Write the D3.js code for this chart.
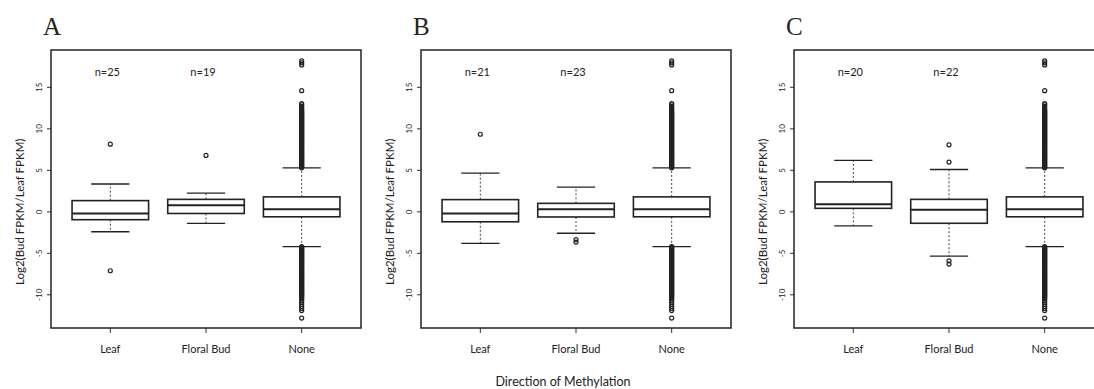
<!DOCTYPE html>
<html>
<head>
<meta charset="utf-8">
<script src="https://cdn.jsdelivr.net/npm/d3@7"></script>
<style>
  body { margin: 0; background: #fff; }
  svg { display: block; }
  text { font-family: Lato, "Liberation Sans", sans-serif; fill: #222; }
</style>
</head>
<body>
<div id="chart"></div>
<script>
// categories along x (same for all three panels)
const categories = ["Leaf", "Floral Bud", "None"];
const panelLetters = ["A", "B", "C"];
const yTicks = [-10, -5, 0, 5, 10, 15];

// n= counts shown above the first two boxes
const countsA = [25, 19];
const countsB = [21, 23];
const countsC = [20, 22];

// box stats: [lower whisker, Q1, median, Q3, upper whisker]
const statsNone = [-4.2, -0.6, 0.3, 1.8, 5.3];
const statsA = [[-2.4, -0.95, -0.2, 1.35, 3.35], [-1.4, -0.2, 0.8, 1.5, 2.25], statsNone];
const statsB = [[-3.8, -1.2, -0.2, 1.47, 4.66], [-2.58, -0.62, 0.3, 1.02, 2.98], statsNone];
const statsC = [[-1.7, 0.42, 0.9, 3.6, 6.2], [-5.35, -1.38, 0.26, 1.5, 5.1], statsNone];

// outliers (the None column is a dense stack of points)
const outNoneHigh = [
  5.3, 5.4, 5.5, 5.6, 5.7, 5.8, 5.9, 6.0, 6.1, 6.2, 6.3, 6.4, 6.5, 6.6, 6.7, 6.8, 6.9,
  7.0, 7.1, 7.2, 7.3, 7.4, 7.5, 7.6, 7.7, 7.8, 7.9, 8.0, 8.1, 8.2, 8.3, 8.4, 8.5, 8.6,
  8.7, 8.8, 8.9, 9.0, 9.1, 9.2, 9.3, 9.4, 9.5, 9.6, 9.7, 9.8, 9.9, 10.0, 10.1, 10.2,
  10.3, 10.4, 10.5, 10.6, 10.7, 10.8, 10.9, 11.0, 11.1, 11.2, 11.3, 11.4, 11.5, 11.6,
  11.7, 11.8, 11.9, 12.0, 12.1, 12.2, 12.35, 12.5, 12.7, 12.9, 13.05,
  14.6, 17.7, 17.95, 18.2
];
const outNoneLow = [
  -4.2, -4.3, -4.4, -4.5, -4.6, -4.7, -4.8, -4.9, -5.0, -5.1, -5.2, -5.3, -5.4, -5.5,
  -5.6, -5.7, -5.8, -5.9, -6.0, -6.1, -6.2, -6.3, -6.4, -6.5, -6.6, -6.7, -6.8, -6.9,
  -7.0, -7.1, -7.2, -7.3, -7.4, -7.5, -7.6, -7.7, -7.8, -7.9, -8.0, -8.1, -8.2, -8.3,
  -8.4, -8.5, -8.6, -8.7, -8.8, -8.9, -9.0, -9.1, -9.2, -9.3, -9.4, -9.5, -9.6, -9.7,
  -9.8, -9.9, -10.0, -10.1, -10.2, -10.35, -10.5, -10.7, -10.9, -11.15, -11.4, -11.65,
  -11.9, -12.8
];
const outNone = outNoneHigh.concat(outNoneLow);
const outA = [[8.15, -7.1], [6.8], outNone];
const outB = [[9.35], [-3.35, -3.65], outNone];
const outC = [[], [8.07, 5.99, -5.9, -6.3], outNone];

const panels = [
  { letter: panelLetters[0], counts: countsA, stats: statsA, out: outA },
  { letter: panelLetters[1], counts: countsB, stats: statsB, out: outB },
  { letter: panelLetters[2], counts: countsC, stats: statsC, out: outC }
];

const W = 1094, H = 389;
const plotLefts = [51, 421, 794];
const plotW = 310, plotTop = 50, plotBottom = 328;

const svg = d3.select("#chart").append("svg")
  .attr("width", W).attr("height", H);

const y = d3.scaleLinear().domain([-14.0, 19.5]).range([plotBottom, plotTop]);

panels.forEach((p, i) => {
  const left = plotLefts[i];
  const x = d3.scaleLinear().domain([0.38, 3.62]).range([left, left + plotW]);
  const g = svg.append("g");

  // panel letter
  g.append("text")
    .attr("x", left - 8).attr("y", 35)
    .style("font-family", "'Liberation Serif', 'DejaVu Serif', serif")
    .style("font-size", "25px")
    .text(p.letter);

  // y axis ticks + rotated labels
  const yAxis = g.append("g");
  yTicks.forEach(t => {
    yAxis.append("line")
      .attr("x1", left - 4).attr("x2", left)
      .attr("y1", y(t)).attr("y2", y(t))
      .attr("stroke", "#333").attr("stroke-width", 1);
    yAxis.append("text")
      .attr("transform", `translate(${left - 12},${y(t)}) rotate(-90)`)
      .attr("text-anchor", "middle")
      .attr("dy", "0.35em")
      .style("font-size", "8px")
      .text(t);
  });

  // y axis title
  g.append("text")
    .attr("transform", `translate(${left - 31},${y(0)}) rotate(-90)`)
    .attr("text-anchor", "middle")
    .attr("dy", "0.35em")
    .style("font-size", "11.5px")
    .text("Log2(Bud FPKM/Leaf FPKM)");

  // x ticks + labels
  categories.forEach((c, k) => {
    g.append("line")
      .attr("x1", x(k + 1)).attr("x2", x(k + 1))
      .attr("y1", plotBottom).attr("y2", plotBottom + 5)
      .attr("stroke", "#333").attr("stroke-width", 1);
    g.append("text")
      .attr("x", x(k + 1)).attr("y", plotBottom + 25)
      .attr("text-anchor", "middle")
      .style("font-size", "11px")
      .text(c);
  });

  // boxes
  p.stats.forEach((s, k) => {
    const cx = x(k + 1);
    const bw = x(0.8) - x(0);
    const cw = x(0.4) - x(0);
    const [lo, q1, med, q3, hi] = s;
    const bg = g.append("g");

    // whiskers (dashed)
    bg.append("line")
      .attr("x1", cx).attr("x2", cx).attr("y1", y(q3)).attr("y2", y(hi))
      .attr("stroke", "#444").attr("stroke-dasharray", "2,2");
    bg.append("line")
      .attr("x1", cx).attr("x2", cx).attr("y1", y(q1)).attr("y2", y(lo))
      .attr("stroke", "#444").attr("stroke-dasharray", "2,2");
    // staples
    [lo, hi].forEach(v => {
      bg.append("line")
        .attr("x1", cx - cw / 2).attr("x2", cx + cw / 2)
        .attr("y1", y(v)).attr("y2", y(v))
        .attr("stroke", "#222").attr("stroke-width", 1.3);
    });
    // box
    bg.append("rect")
      .attr("x", cx - bw / 2).attr("y", y(q3))
      .attr("width", bw).attr("height", y(q1) - y(q3))
      .attr("fill", "#fff").attr("stroke", "#222").attr("stroke-width", 1.6);
    // median
    bg.append("line")
      .attr("x1", cx - bw / 2).attr("x2", cx + bw / 2)
      .attr("y1", y(med)).attr("y2", y(med))
      .attr("stroke", "#222").attr("stroke-width", 2);

    // outliers
    bg.selectAll("circle")
      .data(p.out[k])
      .enter().append("circle")
        .attr("cx", cx).attr("cy", d => y(d))
        .attr("r", 2)
        .attr("fill", "none").attr("stroke", "#222").attr("stroke-width", 1.2);
  });

  // n= labels
  p.counts.forEach((n, k) => {
    g.append("text")
      .attr("x", x(k + 1) - 3).attr("y", 76)
      .attr("text-anchor", "middle")
      .style("font-size", "11px")
      .text(`n=${n}`);
  });

  // plot frame
  g.append("rect")
    .attr("x", left).attr("y", plotTop)
    .attr("width", plotW).attr("height", plotBottom - plotTop)
    .attr("fill", "none").attr("stroke", "#222").attr("stroke-width", 1.5);
});

svg.append("text")
  .attr("x", 563).attr("y", 386)
  .attr("text-anchor", "middle")
  .style("font-size", "12.5px")
  .text("Direction of Methylation");
</script>
</body>
</html>
